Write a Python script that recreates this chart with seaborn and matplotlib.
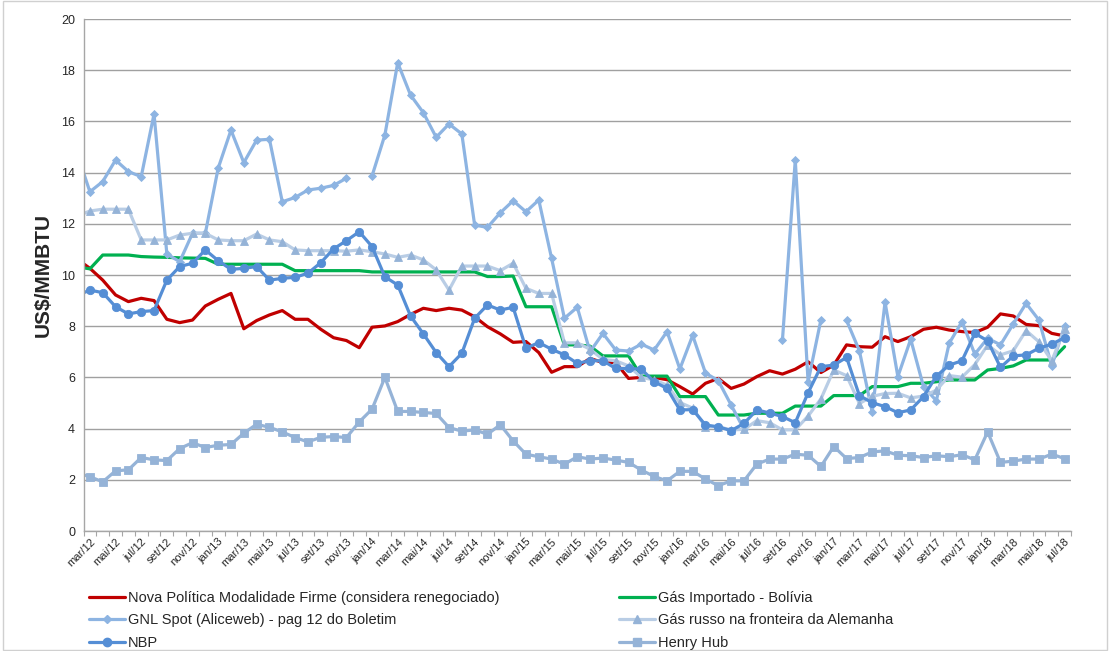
import numpy as np
import pandas as pd
import matplotlib
matplotlib.use("Agg")
import matplotlib.pyplot as plt
from matplotlib.lines import Line2D
from matplotlib.patches import Rectangle
from matplotlib.ticker import FixedLocator, MultipleLocator
import seaborn as sns

# Monthly categories fev/12 .. jul/18 (fev/12 sits just outside the left edge)
month_abbr = ["jan", "fev", "mar", "abr", "mai", "jun",
              "jul", "ago", "set", "out", "nov", "dez"]
periods = [f"{month_abbr[m % 12]}/{12 + m // 12}" for m in range(1, 79)]

nova_politica = [
    10.62,
    10.26, 9.80, 9.22, 8.96, 9.09, 9.00, 8.27, 8.14, 8.24, 8.79,
    9.05, 9.28, 7.90, 8.22, 8.44, 8.61, 8.27, 8.27, 7.88, 7.55,
    7.44, 7.16, 7.96, 8.01, 8.18, 8.46, 8.70, 8.61, 8.70, 8.63,
    8.37, 7.98, 7.70, 7.37, 7.40, 6.97, 6.20, 6.42, 6.42, 6.74,
    6.58, 6.58, 5.96, 6.00, 6.00, 5.91, 5.64, 5.35, 5.77, 5.96,
    5.57, 5.74, 6.03, 6.26, 6.13, 6.32, 6.61, 6.19, 6.48, 7.27,
    7.20, 7.18, 7.59, 7.40, 7.59, 7.88, 7.96, 7.85, 7.79, 7.75,
    7.96, 8.48, 8.40, 8.07, 8.02, 7.72, 7.62,
]

gas_bolivia = [
    10.32,
    10.24, 10.78, 10.78, 10.78, 10.72, 10.70, 10.69, 10.67, 10.66, 10.65,
    10.42, 10.42, 10.42, 10.42, 10.42, 10.42, 10.17, 10.17, 10.17, 10.17,
    10.17, 10.17, 10.12, 10.12, 10.12, 10.12, 10.12, 10.12, 10.12, 10.12,
    10.12, 9.94, 9.94, 9.96, 8.76, 8.76, 8.76, 7.27, 7.27, 7.22,
    6.84, 6.84, 6.84, 6.05, 6.05, 6.05, 5.25, 5.25, 5.25, 4.53,
    4.53, 4.53, 4.60, 4.60, 4.60, 4.88, 4.88, 4.88, 5.29, 5.29,
    5.29, 5.64, 5.64, 5.64, 5.77, 5.77, 5.83, 5.90, 5.90, 5.90,
    6.29, 6.35, 6.45, 6.68, 6.68, 6.68, 7.20,
]

gnl_spot = [
    14.75,
    13.25, 13.65, 14.49, 14.04, 13.84, 16.29, 10.82, 10.52, 11.63, 11.63,
    14.17, 15.66, 14.39, 15.27, 15.30, 12.86, 13.03, 13.32, 13.39, 13.50,
    13.78, np.nan, 13.87, 15.47, 18.29, 17.03, 16.34, 15.38, 15.90, 15.51,
    11.95, 11.86, 12.43, 12.90, 12.47, 12.93, 10.65, 8.31, 8.74, 7.00,
    7.72, 7.07, 7.03, 7.30, 7.07, 7.79, 6.33, 7.64, 6.17, 5.87,
    4.92, 3.97, np.nan, np.nan, 7.46, 14.49, 5.83, 8.25, np.nan, 8.23,
    7.04, 4.64, 8.94, 6.03, 7.49, 5.64, 5.09, 7.33, 8.18, 6.91,
    7.53, 7.27, 8.09, 8.89, 8.24, 6.45, 8.01,
]

gas_russo = [
    12.30,
    12.50, 12.57, 12.57, 12.57, 11.37, 11.37, 11.37, 11.56, 11.63, 11.63,
    11.37, 11.34, 11.34, 11.60, 11.37, 11.30, 10.98, 10.95, 10.95, 10.95,
    10.93, 10.98, 10.91, 10.82, 10.69, 10.78, 10.59, 10.20, 9.41, 10.35,
    10.35, 10.35, 10.17, 10.46, 9.48, 9.28, 9.28, 7.35, 7.35, 7.10,
    6.70, 6.65, 6.45, 6.00, 5.90, 5.70, 5.02, 4.80, 4.07, 4.07,
    3.95, 3.97, 4.31, 4.23, 3.95, 3.95, 4.49, 5.16, 6.29, 6.07,
    4.98, 5.26, 5.37, 5.38, 5.20, 5.27, 5.50, 6.07, 6.01, 6.50,
    7.27, 6.88, 7.04, 7.83, 7.39, 6.65, 7.90,
]

nbp = [
    9.20,
    9.41, 9.31, 8.76, 8.48, 8.57, 8.61, 9.80, 10.33, 10.46, 10.98,
    10.56, 10.22, 10.26, 10.33, 9.80, 9.87, 9.91, 10.07, 10.48, 11.02,
    11.34, 11.69, 11.11, 9.93, 9.61, 8.40, 7.70, 6.97, 6.42, 6.94,
    8.31, 8.83, 8.63, 8.74, 7.14, 7.36, 7.10, 6.88, 6.55, 6.65,
    6.65, 6.35, 6.35, 6.32, 5.83, 5.57, 4.73, 4.74, 4.14, 4.07,
    3.92, 4.20, 4.73, 4.61, 4.47, 4.23, 5.40, 6.42, 6.48, 6.78,
    5.29, 5.01, 4.86, 4.62, 4.73, 5.25, 6.05, 6.48, 6.65, 7.72,
    7.43, 6.39, 6.84, 6.88, 7.14, 7.30, 7.55,
]

henry_hub = [
    2.27,
    2.12, 1.92, 2.35, 2.39, 2.87, 2.78, 2.75, 3.22, 3.45, 3.26,
    3.35, 3.38, 3.82, 4.17, 4.05, 3.87, 3.65, 3.48, 3.66, 3.69,
    3.65, 4.26, 4.76, 6.00, 4.67, 4.67, 4.63, 4.59, 4.04, 3.90,
    3.95, 3.78, 4.15, 3.52, 3.00, 2.90, 2.81, 2.61, 2.90, 2.81,
    2.85, 2.77, 2.68, 2.38, 2.13, 1.96, 2.33, 2.33, 2.03, 1.77,
    1.96, 1.96, 2.61, 2.81, 2.81, 3.00, 2.96, 2.52, 3.30, 2.83,
    2.87, 3.09, 3.13, 2.96, 2.94, 2.87, 2.94, 2.90, 2.98, 2.78,
    3.87, 2.68, 2.73, 2.81, 2.81, 3.00, 2.83,
]

series_names = [
    "Nova Política Modalidade Firme (considera renegociado)",
    "Gás Importado - Bolívia",
    "GNL Spot (Aliceweb) - pag 12 do Boletim",
    "Gás russo na fronteira da Alemanha",
    "NBP",
    "Henry Hub",
]
series_values = [nova_politica, gas_bolivia, gnl_spot, gas_russo, nbp, henry_hub]

# style: line colour, marker, marker colour, marker size
styles = {
    series_names[0]: dict(color="#C00000", marker=None, mfc=None, ms=0),
    series_names[1]: dict(color="#00B050", marker=None, mfc=None, ms=0),
    series_names[2]: dict(color="#8DB4E2", marker="D", mfc="#8DB4E2", ms=4.5),
    series_names[3]: dict(color="#B9CDE5", marker="^", mfc="#95B3D7", ms=5.5),
    series_names[4]: dict(color="#558ED5", marker="o", mfc="#558ED5", ms=6),
    series_names[5]: dict(color="#95B3D7", marker="s", mfc="#95B3D7", ms=5.5),
}

# long-form table; "seg" splits a series wherever a month is missing
frames = []
for name, vals in zip(series_names, series_values):
    v = pd.Series(vals, dtype=float)
    frames.append(pd.DataFrame({
        "pos": np.arange(-1, len(vals) - 1),
        "periodo": periods,
        "valor": v,
        "serie": name,
        "seg": v.isna().cumsum(),
    }))
data = pd.concat(frames, ignore_index=True)

sns.set_theme(style="white")
plt.rcParams["font.family"] = ["Liberation Sans", "DejaVu Sans"]

fig = plt.figure(figsize=(11.10, 6.51), dpi=100)
ax = fig.add_axes([83.5 / 1110, 1 - 531 / 651, (1071 - 83.5) / 1110, (531 - 19) / 651])

LW = 2.3
for name in series_names:
    st = styles[name]
    sub = data[(data["serie"] == name)].dropna(subset=["valor"])
    kw = dict(color=st["color"], linewidth=LW, estimator=None, sort=False,
              units="seg", legend=False, ax=ax)
    if st["marker"]:
        kw.update(marker=st["marker"], markersize=st["ms"],
                  markerfacecolor=st["mfc"], markeredgecolor=st["mfc"],
                  markeredgewidth=0.6)
    sns.lineplot(data=sub, x="pos", y="valor", **kw)

# axes ranges and grid
ax.set_xlim(-0.5, 76.5)
ax.set_ylim(0, 20)
ax.yaxis.set_major_locator(MultipleLocator(2))
ax.grid(axis="y", color="#A0A0A0", linewidth=1.0)
ax.set_axisbelow(True)
for side in ("top", "right"):
    ax.spines[side].set_visible(False)
for side in ("left", "bottom"):
    ax.spines[side].set_color("#A6A6A6")
    ax.spines[side].set_linewidth(1.0)

label_pos = list(range(0, 77, 2))
ax.xaxis.set_major_locator(FixedLocator(label_pos))
ax.set_xticklabels([periods[p + 1] for p in label_pos], rotation=45,
                   ha="right", rotation_mode="anchor", fontsize=8)
ax.xaxis.set_minor_locator(FixedLocator(np.arange(-0.5, 77, 1)))
ax.tick_params(axis="x", which="major", length=0, pad=4)
ax.tick_params(axis="x", which="minor", length=3.5, color="#A6A6A6", width=0.8,
               direction="out", bottom=True)
ax.tick_params(axis="y", length=0, pad=6, labelsize=9)
ax.set_xlabel("")
ax.set_ylabel("US$/MMBTU", fontsize=15, fontweight="bold", labelpad=6)

# legend: two blocks of three rows
def handle(name):
    st = styles[name]
    return Line2D([], [], color=st["color"], linewidth=LW,
                  marker=st["marker"] if st["marker"] else None,
                  markersize=st["ms"], markerfacecolor=st["mfc"],
                  markeredgecolor=st["mfc"])

leg_kw = dict(frameon=False, fontsize=10.5, handlelength=2.5, handletextpad=0.15,
              labelspacing=0.58, borderaxespad=0, borderpad=0, loc="upper left")
left_names = [series_names[0], series_names[2], series_names[4]]
right_names = [series_names[1], series_names[3], series_names[5]]
leg1 = fig.legend([handle(n) for n in left_names], left_names,
                  bbox_to_anchor=(89 / 1110, 1 - 591 / 651), **leg_kw)
leg2 = fig.legend([handle(n) for n in right_names], right_names,
                  bbox_to_anchor=(619 / 1110, 1 - 591 / 651), **leg_kw)

# chart area border
fig.patches.append(Rectangle((0.003, 0.002), 0.994, 0.996, transform=fig.transFigure,
                             fill=False, edgecolor="#D0D0D0", linewidth=1.0))

fig.savefig("out.png", dpi=100)
